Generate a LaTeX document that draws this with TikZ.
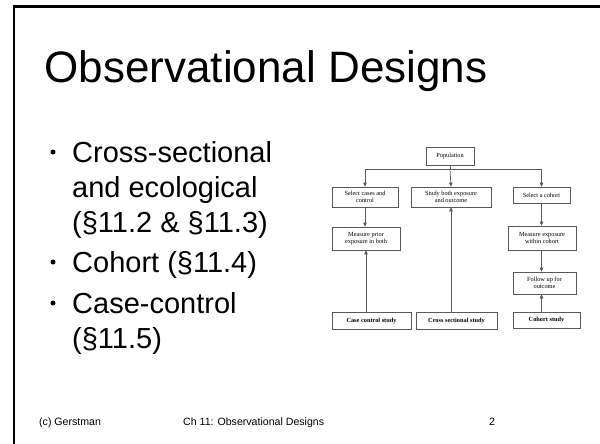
\documentclass[tikz,border=0pt]{standalone}
\usepackage{fontspec}
\setmainfont{Liberation Sans}
\newfontfamily\diagfont{Liberation Serif}
\usetikzlibrary{arrows.meta}
\begin{document}
\begin{tikzpicture}[x=1pt,y=-1pt,
  box/.style={draw=black!65,line width=0.7pt,fill=white,inner sep=0pt,align=center,
    font=\diagfont\fontsize{6.3}{7.2}\selectfont},
  bbox/.style={box,font=\diagfont\bfseries\fontsize{6.3}{7.2}\selectfont},
  conn/.style={draw=black!65,line width=0.7pt},
  arr/.style={conn,-{Triangle[length=4pt,width=3.6pt]}},
  bul/.style={anchor=base west,inner sep=0pt,font=\fontsize{29}{35}\selectfont},
  dot/.style={circle,fill=black,inner sep=0pt,minimum size=5pt}]
\useasboundingbox (0,0) rectangle (600,444);
\fill[white] (0,0) rectangle (600,444);
% frame
\draw[line width=2.6pt] (14,444) -- (14,6.5) -- (600,6.5);
% title
\node[anchor=base,inner sep=0pt,font=\fontsize{44}{50}\selectfont] (title) at (266,82) {Observational Designs};
% bullets
\node[bul] (b1) at (72,162) {Cross-sectional};
\node[bul] (b1b) at (72,197) {and ecological};
\node[bul] (b1c) at (72,232) {(§11.2 \& §11.3)};
\node[bul] (b2) at (72,272) {Cohort (§11.4)};
\node[bul] (b3) at (72,313) {Case-control};
\node[bul] (b3b) at (72,348) {(§11.5)};
\foreach \y/\n in {162/d1,272/d2,313/d3}
  \node[dot] (\n) at (53,\y-10) {};
% footer
\node[anchor=base west,inner sep=0pt,font=\fontsize{10.6}{12}\selectfont] (f1) at (39,425) {(c) Gerstman};
\node[anchor=base west,inner sep=0pt,font=\fontsize{10.6}{12}\selectfont] (f2) at (183,425) {Ch 11: Observational Designs};
\node[anchor=base west,inner sep=0pt,font=\fontsize{10.6}{12}\selectfont] (f3) at (489,425) {2};
% diagram
\node[box,minimum width=48pt,minimum height=18pt] (pop) at (450,156) {Population};
\node[box,minimum width=66pt,minimum height=20pt] (sel) at (365,197) {Select cases and\\control};
\node[box,minimum width=80pt,minimum height=20pt] (stu) at (451,197) {Study both exposure\\and outcome};
\node[box,minimum width=57pt,minimum height=16pt] (sco) at (541.5,195) {Select a cohort};
\node[box,minimum width=68pt,minimum height=23pt] (mpr) at (366,238.5) {Measure prior\\exposure in both};
\node[box,minimum width=68pt,minimum height=24pt] (mex) at (542,238) {Measure exposure\\within cohort};
\node[box,minimum width=63pt,minimum height=22pt] (fol) at (544.5,283) {Follow up for\\outcome};
\node[bbox,minimum width=79pt,minimum height=17pt] (ccs) at (371.5,320.5) {Case control study};
\node[bbox,minimum width=81pt,minimum height=17pt] (css) at (456.5,320.5) {Cross sectional study};
\node[bbox,minimum width=67pt,minimum height=16pt] (chs) at (546.5,320) {Cohort study};
\coordinate (hl) at (365,169);
\coordinate (hr) at (541.5,169);
\coordinate (hm) at (450,169);
\draw[conn] (pop.south) -- (hm);
\draw[arr] (hl) -- (sel.north);
\draw[arr] (hr) -- (sco.north);
\draw[arr] (hm) -- (stu.north);
\draw[conn] (hl) -- (hr);
\draw[arr] (sel.south) -- (sel.south |- mpr.north);
\draw[arr] (ccs.north -| mpr.south) -- (mpr.south);
\draw[arr] (css.north -| stu.south) -- (stu.south);
\draw[arr] (sco.south) -- (sco.south |- mex.north);
\draw[arr] (mex.south -| sco.south) -- (fol.north -| sco.south);
\draw[arr] (chs.north -| sco.south) -- (fol.south -| sco.south);
\end{tikzpicture}
\end{document}
